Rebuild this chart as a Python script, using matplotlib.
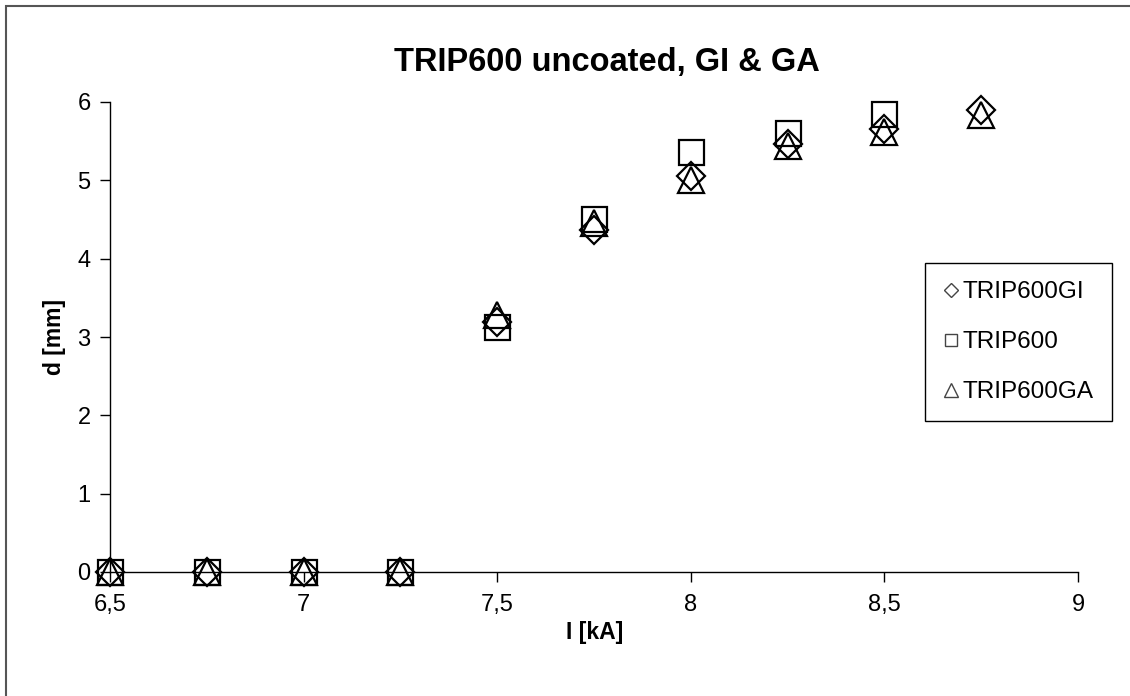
import numpy as np
import matplotlib.pyplot as plt
from matplotlib.patches import Rectangle

plt.rcParams['font.family'] = ['Liberation Sans', 'DejaVu Sans']

current = [6.5, 6.75, 7.0, 7.25, 7.5, 7.75, 8.0, 8.25, 8.5, 8.75]
d_gi = [0, 0, 0, 0, 3.19, 4.37, 5.06, 5.47, 5.66, 5.90]
d_uncoated = [0, 0, 0, 0, 3.13, 4.51, 5.36, 5.60, 5.85, np.nan]
d_ga = [0, 0, 0, 0, 3.28, 4.45, 5.01, 5.44, 5.62, 5.84]

x_ticks = [6.5, 7, 7.5, 8, 8.5, 9]
x_labels = ['6,5', '7', '7,5', '8', '8,5', '9']
y_ticks = [0, 1, 2, 3, 4, 5, 6]

fig = plt.figure(figsize=(11.3, 6.96), dpi=100)
ax = fig.add_axes([110 / 1130, 1 - 572 / 696, 968 / 1130, 470 / 696])

# outer chart frame (cut off at right / bottom like the screenshot)
top = 1 - 6 / 696
fig.patches.append(Rectangle((6 / 1130, -0.2), 1.2, top + 0.2,
                             transform=fig.transFigure, fill=False,
                             edgecolor='#555555', linewidth=1.5))

mk = dict(linestyle='none', markerfacecolor='none', markeredgecolor='black',
          markeredgewidth=1.6, clip_on=False)
ax.plot(current, d_gi, marker='D', markersize=14.0, label='TRIP600GI', **mk)
ax.plot(current, d_uncoated, marker='s', markersize=18.0, label='TRIP600', **mk)
ax.plot(current, d_ga, marker='^', markersize=19.0, label='TRIP600GA', **mk)

ax.set_xlim(6.5, 9)
ax.set_ylim(0, 6)
ax.set_xticks(x_ticks)
ax.set_xticklabels(x_labels)
ax.set_yticks(y_ticks)
ax.tick_params(direction='out', length=7, width=1, labelsize=17)
ax.tick_params(axis='x', pad=9)
ax.tick_params(axis='y', pad=7)

for s in ['top', 'right']:
    ax.spines[s].set_visible(False)
for s in ['left', 'bottom']:
    ax.spines[s].set_linewidth(1.0)

fig.text(607 / 1130, 1 - 62 / 696, 'TRIP600 uncoated, GI & GA', ha='center',
         va='center', fontsize=23.5, fontweight='bold')
fig.text(595 / 1130, 1 - 633 / 696, 'I [kA]', ha='center', va='center',
         fontsize=16.5, fontweight='bold')
fig.text(55 / 1130, 1 - 337 / 696, 'd [mm]', ha='center', va='center',
         fontsize=16.5, fontweight='bold', rotation=90)

leg = ax.legend(loc='upper left', bbox_to_anchor=(925 / 1130, 1 - 263 / 696),
                bbox_transform=fig.transFigure, borderaxespad=0, fontsize=17.5,
                markerscale=0.5, handlelength=0.6, handletextpad=0.2,
                labelspacing=1.15, borderpad=0.75, fancybox=False,
                framealpha=1, edgecolor='black')
leg.get_frame().set_linewidth(1.0)
for h in leg.legend_handles:
    h.set_markeredgewidth(1.0)
    h.set_markeredgecolor('#444444')

fig.savefig('out.png', dpi=100)
